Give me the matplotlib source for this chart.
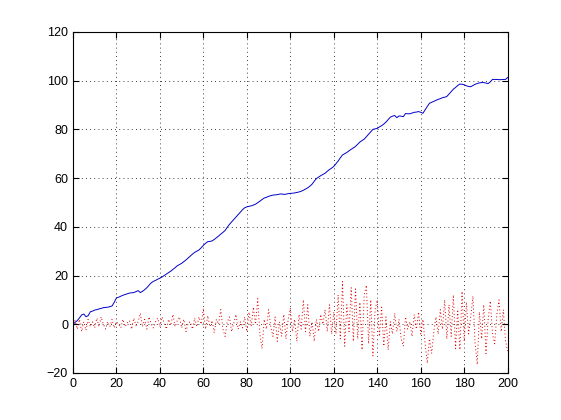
import matplotlib
matplotlib.use("Agg")
import matplotlib.pyplot as plt
import numpy as np

# sample index
x = np.arange(0, 201)

# cumulative signal (blue, solid)
blue = [
    0, 0.8, 1.5, 2.6, 3.8, 4.2, 3.1, 3.5, 5.1, 5.4,
    5.8, 6.0, 6.3, 6.5, 6.8, 6.9, 7.0, 7.2, 7.5, 9.0,
    10.8, 11.1, 11.5, 11.9, 12.2, 12.5, 12.8, 12.9, 13.0, 13.4,
    13.8, 13.0, 13.5, 14.2, 15.0, 16.0, 17.0, 17.6, 18.0, 18.5,
    18.9, 19.4, 20.0, 20.6, 21.2, 21.8, 22.5, 23.2, 24.0, 24.5,
    25.0, 25.7, 26.4, 27.2, 28.0, 28.8, 29.5, 30.0, 30.5, 31.4,
    32.4, 33.2, 33.9, 34.0, 34.2, 34.8, 35.5, 36.2, 37.0, 37.7,
    38.5, 39.8, 41.0, 42.0, 43.0, 44.0, 45.0, 46.0, 47.0, 47.8,
    48.2, 48.4, 48.6, 48.9, 49.3, 49.9, 50.5, 51.2, 51.8, 52.1,
    52.5, 52.8, 53.0, 53.1, 53.2, 53.4, 53.5, 53.3, 53.4, 53.6,
    53.7, 53.8, 53.9, 54.1, 54.3, 54.6, 55.0, 55.5, 56.0, 56.7,
    57.5, 58.7, 59.8, 60.4, 61.0, 61.5, 62.0, 62.8, 63.5, 64.1,
    64.8, 65.9, 67.0, 68.3, 69.5, 70.0, 70.5, 71.2, 71.8, 72.4,
    73.0, 73.9, 74.8, 75.4, 76.0, 77.0, 78.0, 79.0, 80.0, 80.2,
    80.4, 81.0, 81.5, 82.2, 83.0, 84.0, 85.0, 85.4, 85.7, 84.8,
    85.5, 85.4, 85.2, 86.5, 86.4, 86.4, 86.7, 87.0, 87.1, 87.3,
    87.0, 86.6, 88.0, 89.4, 90.7, 91.1, 91.5, 91.9, 92.3, 92.6,
    93.0, 93.2, 93.5, 94.5, 95.5, 96.5, 97.2, 98.0, 98.6, 98.5,
    98.3, 97.9, 97.6, 97.5, 98.0, 98.5, 98.8, 99.1, 99.2, 99.2,
    99.0, 98.8, 99.5, 100.5, 100.5, 100.5, 100.4, 100.4, 100.5, 100.5,
    101.3,
]

# noise signal (red, dotted)
red = [
    0, 1.5, -2, 2, -3, 1, -2.5, 2, -1, 1,
    -1.5, 2.5, -1, 3, 0, -2, 1, -1, 2, -1.5,
    1, 0, -1.5, 2, -1, 0.5, 1.5, -2, 2.5, -0.5,
    1, 4.5, -1, 2, -2, 3, 0, -1.5, 1, 2.5,
    -1, 3, 0.5, -2, 2, -0.5, 4, -1, 1.5, 3,
    -1.5, 2, -3, 0.5, 1, -2, 2.5, -1, 3, 0,
    6.5, -2, 3.5, -1, 1.5, -3.5, 2, 0, 6, -2,
    -5, 1, 3, -3, 0.5, 4, -2, 1, -1.5, 3,
    -3, 5, -1, 7, 0, 10.5, -4, -10, 2, -2,
    6, -1, -5, 3, -7, 1, -5, 4, -6, 2,
    6.5, -3, 2, -7, 4, -2, 10, -3, 8, -5,
    1, -7, 2, -3, 4, 0, 6, -3, 8, -4,
    5, -4, 12, -6, 17.5, -9, 8, -3, 15, -7,
    14.5, -6, 9, -10.5, 12, 16, -8, 10, -13, 6,
    10, -5, 7, -9, 3, -10.5, 1, -4, 4.5, -3,
    2, -6, -9, 3, -2, 1, -5, 4, -2, 5,
    -4, 2, -8, -16, -6, -12, -3, 3, -4, 6,
    -2, 10, -6, 8, -5, 12, -10, 6, -10.5, 13.5,
    -7, 9, -4, 3, 11.5, -8, -16.5, 5, -6, 8,
    -12, 2, 9.5, -4, -8, 4, 10, -3, 6, -7,
    -11,
]

plt.rcParams["font.family"] = ["Liberation Sans", "DejaVu Sans"]

fig = plt.figure(figsize=(5.61, 4.20), dpi=100)
ax = fig.add_axes([0.130, 0.112, 0.775, 0.812])

ax.plot(x, blue, color="#0000c8", linewidth=0.7)
ax.plot(x, red, color="#e00000", linestyle=(0, (1, 2.5)), linewidth=0.7)

ax.set_xlim(0, 200)
ax.set_ylim(-20, 120)
ax.set_xticks(np.arange(0, 201, 20))
ax.set_yticks(np.arange(-20, 121, 20))

ax.grid(True, color="black", linestyle=(0, (1, 4)), linewidth=0.6)
ax.tick_params(direction="in", top=True, right=True, labelsize=9, length=4)
for s in ax.spines.values():
    s.set_linewidth(0.8)

plt.savefig("out.png", dpi=100)
